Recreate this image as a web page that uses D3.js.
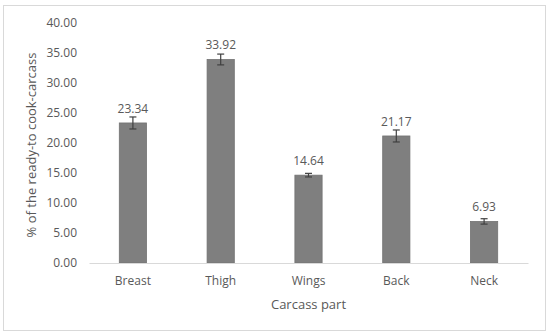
<!DOCTYPE html>
<html>
<head>
<meta charset="utf-8">
<script src="https://cdn.jsdelivr.net/npm/d3@7"></script>
<style>
  body { margin: 0; background: #fff; }
  text { font-family: "Open Sans", "Liberation Sans", sans-serif; fill: #595959; }
</style>
</head>
<body>
<div id="chart"></div>
<script>
const categories = ["Breast", "Thigh", "Wings", "Back", "Neck"]
const values = [23.34, 33.92, 14.64, 21.17, 6.93]
const errors = [1.0, 0.9, 0.3, 1.0, 0.45]
const yTicks = [0, 5, 10, 15, 20, 25, 30, 35, 40]

const width = 550
const height = 336

const svg = d3.select("#chart").append("svg")
  .attr("width", width)
  .attr("height", height)

// chart frame
svg.append("rect")
  .attr("x", 3.5).attr("y", 5.5)
  .attr("width", 542).attr("height", 325)
  .attr("fill", "#fff")
  .attr("stroke", "#d9d9d9")

const xScale = d3.scaleBand()
  .domain(categories)
  .range([89, 528])
  .paddingInner(0.69)
  .paddingOuter(0.345)

const yScale = d3.scaleLinear()
  .domain([0, 40])
  .range([263, 23])

// y axis labels
const yAxis = svg.append("g")
  .attr("transform", "translate(77,0)")
  .call(d3.axisLeft(yScale).tickValues(yTicks).tickSize(0).tickPadding(0).tickFormat(d3.format(".2f")))
yAxis.select(".domain").remove()
yAxis.selectAll("text").attr("font-size", 12).attr("fill", "#595959")

// bars
svg.selectAll(".bar")
  .data(values)
  .enter()
  .append("rect")
    .attr("class", "bar")
    .attr("x", (d, i) => xScale(categories[i]))
    .attr("y", d => yScale(d))
    .attr("width", xScale.bandwidth())
    .attr("height", d => yScale(0) - yScale(d))
    .attr("fill", "#7f7f7f")
    .attr("stroke", "#737373")
    .attr("stroke-width", 0.8)

// x axis
const xAxis = svg.append("g")
  .attr("transform", "translate(0,263)")
  .call(d3.axisBottom(xScale).tickSize(0).tickPadding(13))
xAxis.select(".domain").attr("stroke", "#d9d9d9")
xAxis.selectAll("text").attr("font-size", 12).attr("fill", "#595959")

// error bars
const eb = svg.append("g").attr("stroke", "#404040").attr("stroke-width", 1.2)
values.forEach(function(v, i) {
  const cx = xScale(categories[i]) + xScale.bandwidth() / 2
  eb.append("line")
    .attr("x1", cx).attr("x2", cx)
    .attr("y1", yScale(v + errors[i])).attr("y2", yScale(v - errors[i]))
  eb.append("line")
    .attr("x1", cx - 3.5).attr("x2", cx + 3.5)
    .attr("y1", yScale(v + errors[i])).attr("y2", yScale(v + errors[i]))
  eb.append("line")
    .attr("x1", cx - 3.5).attr("x2", cx + 3.5)
    .attr("y1", yScale(v - errors[i])).attr("y2", yScale(v - errors[i]))
})

// value labels
svg.selectAll(".vlabel")
  .data(values)
  .enter()
  .append("text")
    .attr("class", "vlabel")
    .attr("x", (d, i) => xScale(categories[i]) + xScale.bandwidth() / 2)
    .attr("y", d => yScale(d) - 10)
    .attr("text-anchor", "middle")
    .attr("font-size", 12)
    .text(d => d3.format(".2f")(d))

// axis titles
svg.append("text")
  .attr("x", 308.5)
  .attr("y", 309)
  .attr("text-anchor", "middle")
  .attr("font-size", 13)
  .text("Carcass part")

svg.append("text")
  .attr("transform", "translate(36,145) rotate(-90)")
  .attr("text-anchor", "middle")
  .attr("font-size", 13)
  .text("% of the ready-to cook-carcass")
</script>
</body>
</html>
